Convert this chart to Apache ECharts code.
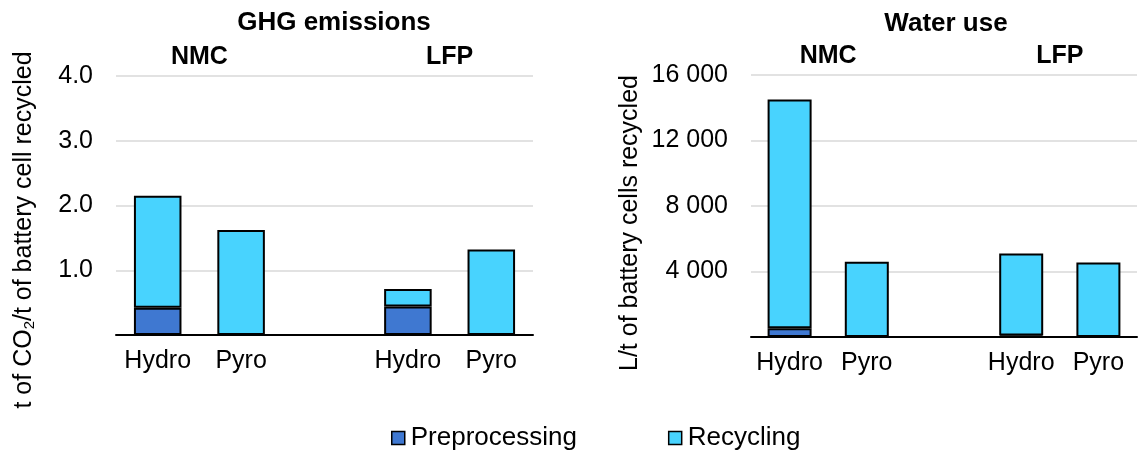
<!DOCTYPE html>
<html>
<head>
<meta charset="utf-8">
<script src="https://cdn.jsdelivr.net/npm/echarts@6/dist/echarts.min.js"></script>
<style>
  html, body { margin: 0; padding: 0; background: #fff; }
  #chart { width: 1140px; height: 452px; }
</style>
</head>
<body>
<div id="chart"></div>
<script>
// ---- data ----
const categories = ['Hydro', 'Pyro', '', 'Hydro', 'Pyro'];
const groupLabels = ['NMC', 'LFP'];
const seriesNames = ['Preprocessing', 'Recycling'];

// GHG emissions (t CO2 / t battery cell recycled)
const ghgPreprocessing = [0.42, null, null, 0.44, null];
const ghgRecycling     = [1.73, 1.62, null, 0.27, 1.32];
const ghgTicks = [0, 1, 2, 3, 4];

// Water use (L / t battery cells recycled)
const waterPreprocessing = [540, null, null, 90, null];
const waterRecycling     = [13960, 4600, null, 5010, 4550];
const waterTicks = [0, 4000, 8000, 12000, 16000];

const titles = ['GHG emissions', 'Water use'];

// ---- styles ----
const FONT = 'Liberation Sans, Arial, sans-serif';
const FS = 25;
const colPre = '#3f78d1';
const colRec = '#48d3fe';

function fmtThousands(v) {
  return String(v).replace(/\B(?=(\d{3})+(?!\d))/g, ' ');
}

const grids = [
  { left: 116, right: 607, top: 76, bottom: 117 },
  { left: 751, right: -6, top: 75, bottom: 115 }
];

function catAxis(gi) {
  return {
    type: 'category', gridIndex: gi, data: categories,
    axisLine: { lineStyle: { color: '#000', width: 2 } },
    axisTick: { show: false },
    axisLabel: { color: '#000', fontSize: FS, fontFamily: FONT, margin: 14, interval: 0 },
    splitLine: { show: false }
  };
}
function groupAxis(gi) {
  return {
    type: 'value', gridIndex: gi, position: 'top', min: 0, max: 5, interval: 1,
    axisLine: { show: false }, axisTick: { show: false }, splitLine: { show: false },
    axisLabel: {
      color: '#000', fontSize: FS, fontWeight: 'bold', fontFamily: FONT, margin: 6,
      formatter: v => v === 1 ? groupLabels[0] : (v === 4 ? groupLabels[1] : '')
    }
  };
}
function valAxis(gi, ticks, fmt) {
  return {
    type: 'value', gridIndex: gi, min: ticks[0], max: ticks[ticks.length - 1],
    interval: ticks[1] - ticks[0],
    axisLine: { show: false }, axisTick: { show: false },
    splitLine: { lineStyle: { color: '#e2e2e2', width: 2 } },
    axisLabel: {
      color: '#000', fontSize: FS, fontFamily: FONT, margin: 23,
      formatter: v => v === 0 ? '' : fmt(v)
    }
  };
}

function barSeries(name, data, xi, yi, color) {
  return {
    name, type: 'bar', stack: 'g' + xi, xAxisIndex: xi, yAxisIndex: yi, data,
    barWidth: '57%',
    itemStyle: { color, borderColor: '#000', borderWidth: 2 },
    emphasis: { disabled: true }
  };
}

const option = {
  animation: false,
  textStyle: { fontFamily: FONT },
  title: [
    { text: titles[0], left: 329, top: 5, textAlign: 'center',
      textStyle: { fontSize: 26, fontWeight: 'bold', color: '#000', fontFamily: FONT } },
    { text: titles[1], left: 941, top: 6, textAlign: 'center',
      textStyle: { fontSize: 26, fontWeight: 'bold', color: '#000', fontFamily: FONT } }
  ],
  legend: {
    left: 391, top: 425, padding: 0, itemWidth: 13, itemHeight: 13, itemGap: 91,
    icon: 'rect',
    data: seriesNames,
    itemStyle: { borderColor: '#000', borderWidth: 1.5 },
    textStyle: { fontSize: 26, color: '#000', fontFamily: FONT, padding: [0, 0, 0, 1] }
  },
  grid: grids,
  xAxis: [catAxis(0), catAxis(1), groupAxis(0), groupAxis(1)],
  yAxis: [
    valAxis(0, ghgTicks, v => v.toFixed(1)),
    valAxis(1, waterTicks, fmtThousands)
  ],
  series: [
    barSeries(seriesNames[0], ghgPreprocessing, 0, 0, colPre),
    barSeries(seriesNames[1], ghgRecycling, 0, 0, colRec),
    barSeries(seriesNames[0], waterPreprocessing, 1, 1, colPre),
    barSeries(seriesNames[1], waterRecycling, 1, 1, colRec)
  ],
  graphic: [
    {
      type: 'text', x: 22, y: 230, rotation: Math.PI / 2,
      style: {
        text: '{a|t of CO}{s|2}{a|/t of battery cell recycled}',
        align: 'center', verticalAlign: 'middle',
        rich: {
          a: { fontSize: FS, fontFamily: FONT, fill: '#000', lineHeight: 30, verticalAlign: 'bottom' },
          s: { fontSize: 15, fontFamily: FONT, fill: '#000', lineHeight: 18, verticalAlign: 'bottom' }
        }
      }
    },
    {
      type: 'text', x: 630, y: 223, rotation: Math.PI / 2,
      style: {
        text: 'L/t of battery cells recycled',
        align: 'center', verticalAlign: 'middle',
        fontSize: FS, fontFamily: FONT, fill: '#000'
      }
    }
  ]
};

const chart = echarts.init(document.getElementById('chart'), null, { renderer: 'canvas' });
chart.setOption(option);
</script>
</body>
</html>
